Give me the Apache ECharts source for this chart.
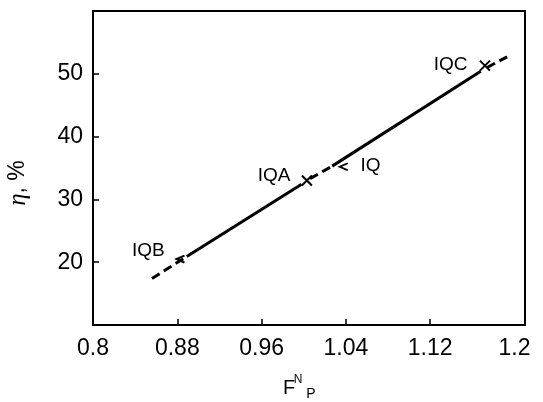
<!DOCTYPE html>
<html>
<head>
<meta charset="utf-8">
<script src="https://cdn.jsdelivr.net/npm/echarts@6/dist/echarts.min.js"></script>
<style>html,body{margin:0;padding:0;background:#fff}#c{width:543px;height:402px}</style>
</head>
<body>
<div id="c"></div>
<script>
// ---- data ----
const pointNames = ['IQB', 'IQA', 'IQ', 'IQC'];
const pointX = [0.883, 1.003, 1.038, 1.172];
const pointY = [20.5, 33.0, 35.2, 51.3];
// fitted line pieces (x, y pairs)
const fitSolid1 = [[0.889, 20.9], [0.998, 32.4]];
const fitSolid2 = [[1.027, 35.3], [1.168, 50.4]];
const fitDash1 = [[0.856, 17.4], [0.886, 20.6]];
const fitDash2 = [[1.006, 33.3], [1.027, 35.3]];
const fitDash3 = [[1.174, 51.0], [1.193, 52.7]];
const xTickLabels = [0.8, 0.88, 0.96, 1.04, 1.12, 1.2];
const xTickMarks = [0.88, 0.96, 1.04, 1.12];
const yTickLabels = [20, 30, 40, 50];

// ---- styles ----
const FONT = "'Liberation Sans', Arial, sans-serif";
const crossPath = 'path://M0,0L10,10M10,0L0,10';
const chevPath = 'path://M10,0L0,5L10,10';
const markerStyle = {
  IQB: { symbol: chevPath, size: [8, 7], pos: 'left', off: [-4, -8] },
  IQA: { symbol: crossPath, size: 10, pos: 'left', off: [-4, -5] },
  IQ:  { symbol: chevPath, size: [8, 7], pos: 'right', off: [5, -1] },
  IQC: { symbol: crossPath, size: 10, pos: 'left', off: [-5, -1] }
};

const pts = pointNames.map((n, i) => {
  const s = markerStyle[n];
  return {
    name: n, value: [pointX[i], pointY[i]],
    symbol: s.symbol, symbolSize: s.size,
    label: { show: true, formatter: n, position: s.pos, offset: s.off,
      color: '#000', fontSize: 19, fontFamily: FONT, textBorderWidth: 0 }
  };
});

const lineSeries = (d, dashed) => ({
  type: 'line', data: d, symbol: 'none', silent: true, z: 2,
  lineStyle: { color: '#000', width: 3, type: dashed ? [9, 5] : 'solid' }
});

const chart = echarts.init(document.getElementById('c'), null, { renderer: 'canvas' });
chart.setOption({
  animation: false,
  backgroundColor: '#fff',
  grid: { left: 93, right: 18, top: 11, bottom: 77, show: true, borderColor: '#000', borderWidth: 2 },
  xAxis: {
    type: 'value', min: 0.8, max: 1.21,
    axisLine: { show: true, onZero: false, lineStyle: { color: '#000', width: 2 } },
    axisTick: { show: true, inside: true, length: 6, lineStyle: { color: '#000', width: 1.5 }, customValues: xTickMarks },
    axisLabel: { customValues: xTickLabels, color: '#000', fontSize: 23, fontFamily: FONT, margin: 12,
      formatter: v => String(+v.toFixed(2)) },
    splitLine: { show: false }
  },
  yAxis: {
    type: 'value', min: 10, max: 60,
    axisLine: { show: true, lineStyle: { color: '#000', width: 2 } },
    axisTick: { show: true, inside: true, length: 6, lineStyle: { color: '#000', width: 1.5 }, customValues: yTickLabels },
    axisLabel: { customValues: yTickLabels, color: '#000', fontSize: 23, fontFamily: FONT, margin: 10 },
    splitLine: { show: false }
  },
  series: [
    lineSeries(fitDash1, true),
    lineSeries(fitSolid1, false),
    lineSeries(fitDash2, true),
    lineSeries(fitSolid2, false),
    lineSeries(fitDash3, true),
    {
      type: 'scatter', data: pts, z: 3,
      itemStyle: { color: 'none', borderColor: '#000', borderWidth: 2, opacity: 1 },
      label: { color: '#000', fontSize: 19, fontFamily: FONT }
    }
  ],
  graphic: [
    { type: 'text', x: 18, y: 183, rotation: Math.PI / 2,
      style: { text: '{i|η}, %', fill: '#000', font: '23px ' + FONT, align: 'center', verticalAlign: 'middle',
        rich: { i: { fontFamily: "'Liberation Serif', serif", fontStyle: 'italic', fontSize: 25 } } } },
    { type: 'text', x: 289, y: 398, style: { text: 'F', fill: '#000', font: '20px ' + FONT, align: 'center', verticalAlign: 'bottom' } },
    { type: 'text', x: 298, y: 386, style: { text: 'N', fill: '#000', font: '12px ' + FONT, align: 'center', verticalAlign: 'bottom' } },
    { type: 'text', x: 311, y: 401, style: { text: 'P', fill: '#000', font: '14px ' + FONT, align: 'center', verticalAlign: 'bottom' } }
  ]
});
</script>
</body>
</html>
